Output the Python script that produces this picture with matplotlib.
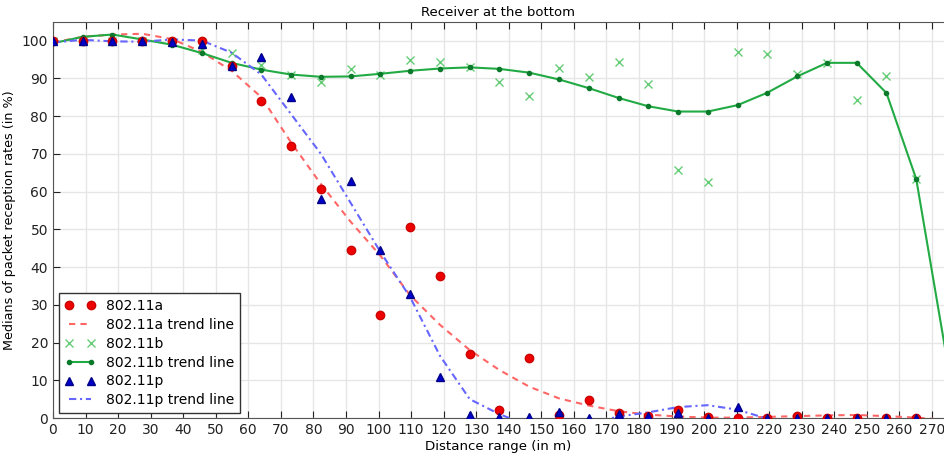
import numpy as np
import matplotlib.pyplot as plt

# Measurement positions: every 30 ft (9.144 m)
distance = np.arange(31) * 9.144

# Medians of packet reception rate per distance (in %)
rate_a = [100, 100, 100, 100, 100, 100, 93.2, 84.1, 72.2, 60.6, 44.5, 27.4, 50.6, 37.6,
          16.9, 2.2, 15.8, 0.8, 4.7, 1.2, 0.5, 2.2, 0.2, 0.1, 0.0, 0.6, 0.0, 0.1, 0.1, 0.0]
rate_b = [100, 100, 100, 100, 99.5, 97.6, 96.6, 93.4, 91.0, 88.9, 92.6, 90.8, 94.8, 94.2,
          93.0, 89.1, 85.3, 92.7, 90.4, 94.3, 88.6, 65.6, 62.5, 96.9, 96.5, 91.2, 94.0,
          84.3, 90.7, 63.3]
rate_p = [100, 100, 100, 100, 99.6, 99.1, 93.3, 95.6, 85.0, 58.1, 62.9, 44.5, 32.8, 10.8,
          0.9, 0.4, 0.4, 1.5, 0.1, 1.1, 0.6, 1.2, 0.1, 2.8, 0.1, 0.0, 0.0, 0.0, 0.0, 0.0]

# Fitted trend lines evaluated at the same distances
trend_a = [99.5, 101.0, 101.6, 101.8, 100.4, 97.0, 92.0, 85.0, 73.0, 62.0, 52.0, 43.0, 32.5,
           24.7, 18.0, 12.7, 8.3, 5.2, 3.3, 1.8, 0.9, 0.4, 0.1, 0.1, 0.3, 0.5, 0.7, 0.8,
           0.5, 0.1, -0.5]
trend_b = [99.3, 101.0, 101.6, 100.3, 98.9, 96.7, 94.1, 92.3, 91.0, 90.4, 90.5, 91.2, 92.0,
           92.6, 92.9, 92.5, 91.5, 89.7, 87.4, 84.8, 82.6, 81.2, 81.2, 82.9, 86.2, 90.5,
           94.1, 94.1, 86.1, 63.3, 17.0]
trend_p = [99.5, 100.2, 99.8, 99.7, 100.3, 100.0, 96.8, 91.0, 80.5, 70.0, 57.0, 44.0, 32.0,
           16.5, 5.0, 1.0, -2.0, -2.5, -1.5, 0.4, 1.5, 2.9, 3.4, 2.2, -0.2, -3.0, -5.0,
           -6.0, -6.0, -5.0, -4.0]

n_meas = len(rate_a)

plt.rcParams['font.size'] = 10
fig = plt.figure(figsize=(9.44, 4.57), dpi=100)
ax = fig.add_axes([0.0561, 0.0853, 0.9439, 0.8672])

ax.grid(True, color='#e6e6e6', linewidth=1.0, zorder=0)
ax.set_axisbelow(True)

ax.plot(distance[:n_meas], rate_a, 'o', color='#ee0000', markersize=6, markeredgecolor='#cc0000',
        label='802.11a', zorder=4)
ax.plot(distance, trend_a, '--', color='#ff6666', linewidth=1.5, dashes=(3, 2.5),
        label='802.11a trend line', zorder=3)
ax.plot(distance[:n_meas], rate_b, 'x', color='#66cc77', markersize=6, markeredgewidth=1.0,
        label='802.11b', zorder=3)
ax.plot(distance, trend_b, '-', color='#22aa44', linewidth=1.5, marker='o', markersize=3,
        markerfacecolor='#0b7a2a', markeredgecolor='#0b7a2a', markevery=slice(0, n_meas),
        label='802.11b trend line', zorder=3)
ax.plot(distance[:n_meas], rate_p, '^', color='#0000cc', markersize=6, markeredgecolor='#000088',
        label='802.11p', zorder=5)
ax.plot(distance, trend_p, '-.', color='#6666ff', linewidth=1.5, dashes=(3.5, 1.8, 1, 1.8),
        label='802.11p trend line', zorder=3)

ax.set_xlim(0, 273.7)
ax.set_ylim(0, 105)
ax.set_xticks(np.arange(0, 271, 10))
ax.set_yticks(np.arange(0, 101, 10))
ax.tick_params(direction='in', top=True, right=False, length=5, colors='#222222', labelsize=10)
ax.spines['right'].set_visible(False)
for side in ['left', 'bottom', 'top']:
    ax.spines[side].set_color('#555555')

ax.set_title('Receiver at the bottom', fontsize=9.5, pad=4)
ax.set_xlabel('Distance range (in m)', fontsize=9.6, labelpad=2)
ax.set_ylabel('Medians of packet reception rates (in %)', fontsize=9.2)
ax.yaxis.set_label_coords(-0.041, 0.5)

leg = ax.legend(loc='lower left', bbox_to_anchor=(0.007, 0.013), borderaxespad=0,
                numpoints=2, fancybox=False, framealpha=1, fontsize=10,
                handlelength=2.2, labelspacing=0.35, borderpad=0.4)
leg.get_frame().set_edgecolor('#333333')

fig.savefig('out.png', dpi=100)
